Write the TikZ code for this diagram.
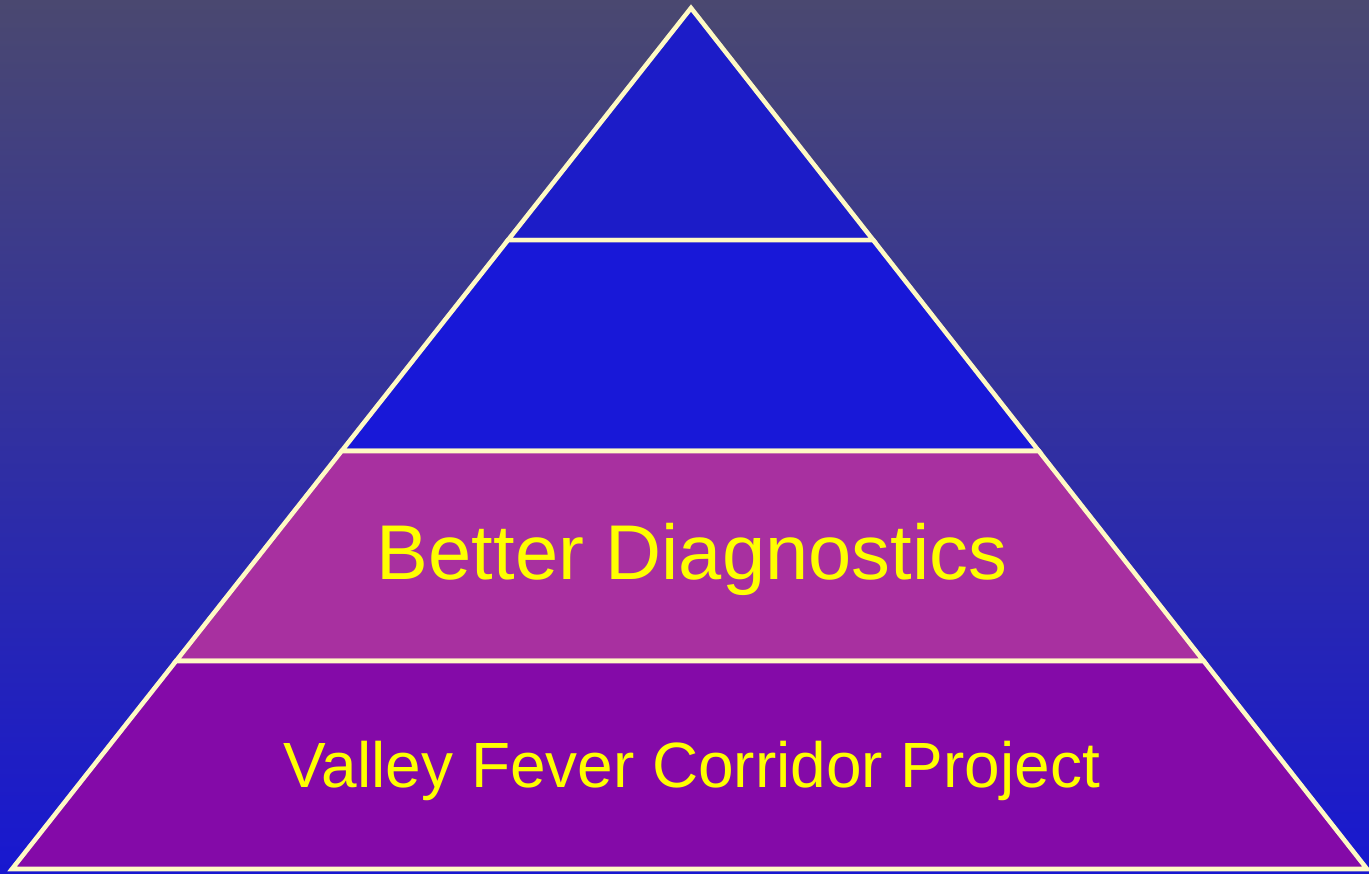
\documentclass[tikz,border=0pt]{standalone}
\usepackage{fontspec}
\setmainfont{Liberation Sans}
\usepackage{tikz}
\usetikzlibrary{positioning, calc}
\definecolor{bgtop}{RGB}{74, 72, 112}
\definecolor{bgbottom}{RGB}{24, 24, 208}
\definecolor{tipblue}{RGB}{28, 28, 200}
\definecolor{layerblue}{RGB}{24, 24, 216}
\definecolor{diagmagenta}{RGB}{168, 48, 160}
\definecolor{projpurple}{RGB}{132, 10, 168}
\definecolor{edgecream}{RGB}{255, 250, 196}
\definecolor{labelyellow}{RGB}{255, 255, 0}
\tikzset{
    layer/.style={draw=edgecream, line width=2.6pt, line join=miter},
    tiplayer/.style={layer, fill=tipblue},
    bluelayer/.style={layer, fill=layerblue},
    diaglayer/.style={layer, fill=diagmagenta},
    projlayer/.style={layer, fill=projpurple},
    layerlabel/.style={text=labelyellow, anchor=base, inner sep=0pt},
}

\begin{document}
\begin{tikzpicture}[x=0.02cm, y=-0.02cm]
    % background
    \shade[top color=bgtop, bottom color=bgbottom] (0,0) rectangle (1369,873);
    \useasboundingbox (0,0) rectangle (1369,873);
    \clip (0,0) rectangle (1369,873);

    % pyramid corners
    \coordinate (apex) at (691,8);
    \coordinate (baseL) at (12,869);
    \coordinate (baseR) at (1367,869);
    \coordinate (l1) at ($(apex)!0.2695!(baseL)$);
    \coordinate (r1) at ($(apex)!0.2695!(baseR)$);
    \coordinate (l2) at ($(apex)!0.5145!(baseL)$);
    \coordinate (r2) at ($(apex)!0.5145!(baseR)$);
    \coordinate (l3) at ($(apex)!0.7584!(baseL)$);
    \coordinate (r3) at ($(apex)!0.7584!(baseR)$);

    % layers, top to bottom
    \draw[tiplayer] (apex) -- (r1) -- (l1) -- cycle;
    \draw[bluelayer] (l1) -- (r1) -- (r2) -- (l2) -- cycle;
    \draw[diaglayer] (l2) -- (r2) -- (r3) -- (l3) -- cycle;
    \draw[projlayer] (l3) -- (r3) -- (baseR) -- (baseL) -- cycle;

    % labels
    \node[layerlabel, font=\fontsize{44.2}{48}\selectfont] (diagnostics) at (692,579) {Better Diagnostics};
    \node[layerlabel, font=\fontsize{36.4}{40}\selectfont] (corridor) at (692,787) {Valley Fever Corridor Project};
\end{tikzpicture}
\end{document}
